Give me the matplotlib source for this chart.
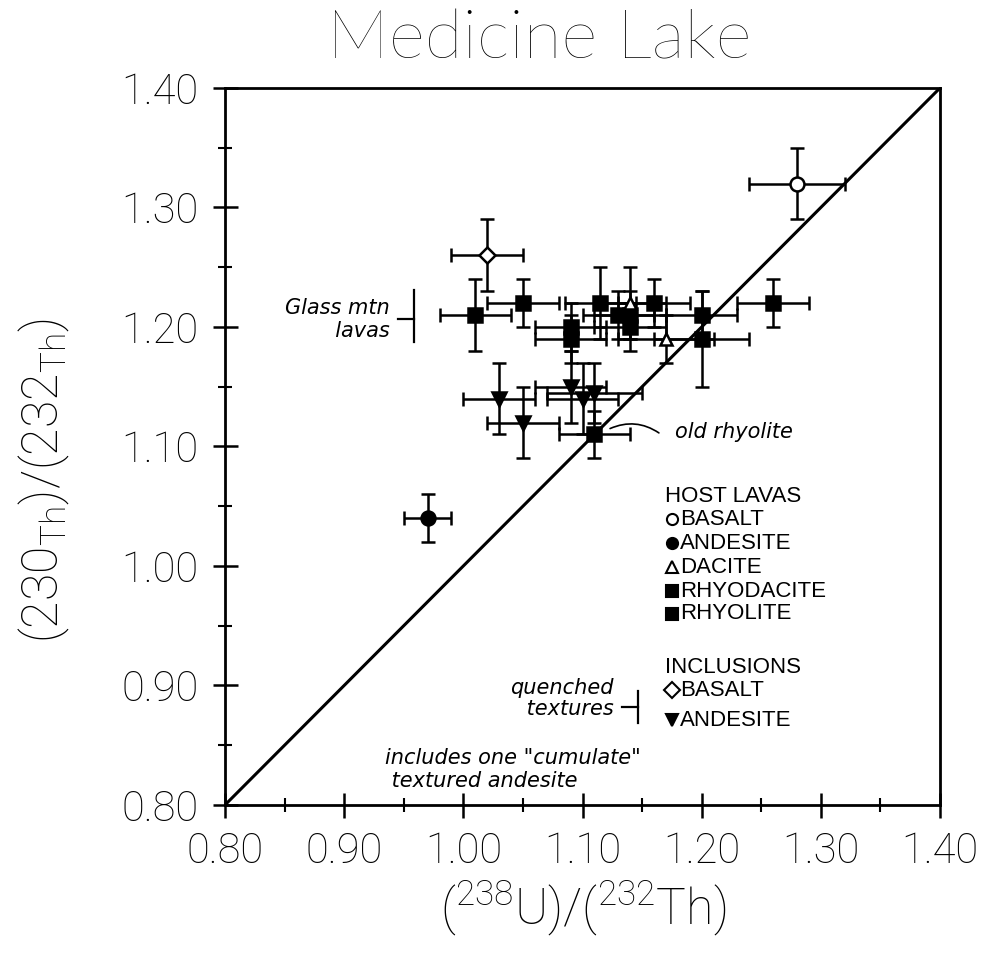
import matplotlib
matplotlib.use("Agg")
import matplotlib.pyplot as plt

plt.rcParams['font.family'] = ['Roboto', 'Lato', 'DejaVu Sans']
plt.rcParams['font.weight'] = 'light'
plt.rcParams['mathtext.fontset'] = 'custom'
plt.rcParams['mathtext.rm'] = 'Roboto:light'

# данные: x, y, ошибка x, ошибка y
host_basalt_x, host_basalt_y = [1.28], [1.32]
host_basalt_xe, host_basalt_ye = [0.04], [0.03]

host_andesite_x, host_andesite_y = [0.97], [1.04]
host_andesite_xe, host_andesite_ye = [0.02], [0.02]

dacite_x, dacite_y = [1.14, 1.17], [1.22, 1.19]
dacite_xe, dacite_ye = [0.03, 0.04], [0.03, 0.02]

rhyodacite_x = [1.09, 1.09, 1.115, 1.13, 1.14, 1.14, 1.16, 1.20, 1.20]
rhyodacite_y = [1.20, 1.19, 1.22, 1.21, 1.21, 1.20, 1.22, 1.21, 1.19]
rhyodacite_xe = [0.03, 0.03, 0.03, 0.03, 0.03, 0.03, 0.03, 0.03, 0.04]
rhyodacite_ye = [0.02, 0.02, 0.03, 0.02, 0.02, 0.02, 0.02, 0.02, 0.04]

rhyolite_x = [1.01, 1.05, 1.11, 1.26]
rhyolite_y = [1.21, 1.22, 1.11, 1.22]
rhyolite_xe = [0.03, 0.03, 0.03, 0.03]
rhyolite_ye = [0.03, 0.02, 0.02, 0.02]

incl_basalt_x, incl_basalt_y = [1.02], [1.26]
incl_basalt_xe, incl_basalt_ye = [0.03], [0.03]

incl_andesite_x = [1.03, 1.05, 1.09, 1.10, 1.11]
incl_andesite_y = [1.14, 1.12, 1.15, 1.14, 1.145]
incl_andesite_xe = [0.03, 0.03, 0.03, 0.03, 0.04]
incl_andesite_ye = [0.03, 0.03, 0.03, 0.03, 0.025]

ticks = [0.80, 0.90, 1.00, 1.10, 1.20, 1.30, 1.40]
tick_labels = ['0.80', '0.90', '1.00', '1.10', '1.20', '1.30', '1.40']

fig = plt.figure(figsize=(9.89, 9.6), dpi=100)
ax = fig.add_axes([0.2275, 0.1615, 0.723, 0.7469])

# линия 1:1
ax.plot([0.8, 1.4], [0.8, 1.4], color='black', lw=2.2, zorder=2)

groups = [
    (host_basalt_x, host_basalt_y, host_basalt_xe, host_basalt_ye, 'o', 'white', 10),
    (host_andesite_x, host_andesite_y, host_andesite_xe, host_andesite_ye, 'o', 'black', 10),
    (rhyodacite_x, rhyodacite_y, rhyodacite_xe, rhyodacite_ye, 's', 'black', 10),
    (rhyolite_x, rhyolite_y, rhyolite_xe, rhyolite_ye, 's', 'black', 10),
    (dacite_x, dacite_y, dacite_xe, dacite_ye, '^', 'white', 9),
    (incl_basalt_x, incl_basalt_y, incl_basalt_xe, incl_basalt_ye, 'D', 'white', 8),
    (incl_andesite_x, incl_andesite_y, incl_andesite_xe, incl_andesite_ye, 'v', 'black', 10),
]
for gx, gy, gxe, gye, m, fc, ms in groups:
    ax.errorbar(gx, gy, xerr=gxe, yerr=gye, fmt=m, mfc=fc, mec='black', mew=1.8,
                ms=ms, ecolor='black', elinewidth=1.8, capsize=5, capthick=1.8, zorder=3)

ax.set_xlim(0.8, 1.4)
ax.set_ylim(0.8, 1.4)
ax.set_xticks(ticks)
ax.set_xticklabels(tick_labels)
ax.set_yticks(ticks)
ax.set_yticklabels(tick_labels)
ax.set_xticks([0.85, 0.95, 1.05, 1.15, 1.25, 1.35], minor=True)
ax.set_yticks([0.85, 0.95, 1.05, 1.15, 1.25, 1.35], minor=True)
ax.tick_params(which='major', direction='inout', length=18, width=1.8, labelsize=30, pad=10)
ax.tick_params(which='minor', direction='inout', length=10, width=1.5)
for s in ax.spines.values():
    s.set_linewidth(2)

fig.text(0.545, 0.958, 'Medicine Lake', ha='center', va='center', fontsize=50,
         family=['Lato', 'DejaVu Sans'], fontweight='light')
fig.text(0.59, 0.054, r'$(^{238}\mathrm{U})/(^{232}\mathrm{Th})$', ha='center', va='center', fontsize=36)
fig.text(0.045, 0.5, r'$(230_{\mathrm{Th}})/(232_{\mathrm{Th}})$', ha='center', va='center',
         rotation=90, fontsize=36)

# легенда вручную
leg_font = ['Liberation Sans Narrow', 'Liberation Sans', 'DejaVu Sans']
leg_x_mark, leg_x_text = 1.175, 1.182
legend_rows = [
    (1.058, 'HOST LAVAS', None, None),
    (1.039, 'BASALT', 'o', 'white'),
    (1.019, 'ANDESITE', 'o', 'black'),
    (0.999, 'DACITE', '^', 'white'),
    (0.979, 'RHYODACITE', 's', 'black'),
    (0.960, 'RHYOLITE', 's', 'black'),
    (0.915, 'INCLUSIONS', None, None),
    (0.896, 'BASALT', 'D', 'white'),
    (0.871, 'ANDESITE', 'v', 'black'),
]
for ly, txt, m, fc in legend_rows:
    if m is None:
        ax.text(leg_x_mark - 0.006, ly, txt, fontsize=16, family=leg_font,
                fontweight='normal', va='center', ha='left')
    else:
        ax.plot([leg_x_mark], [ly], marker=m, mfc=fc, mec='black', mew=1.5, ms=8, ls='none')
        ax.text(leg_x_text, ly, txt, fontsize=16, family=leg_font,
                fontweight='normal', va='center', ha='left')

# рукописные подписи
hand = dict(fontsize=15, style='italic', family=['DejaVu Sans'], fontweight='normal')
ax.text(0.938, 1.206, 'Glass mtn\n  lavas', ha='right', va='center', linespacing=1.2, **hand)
ax.plot([0.9586, 0.9586], [1.187, 1.231], color='black', lw=1.6)
ax.plot([0.945, 0.9586], [1.207, 1.207], color='black', lw=1.6)

ax.text(1.178, 1.112, 'old rhyolite', ha='left', va='center', **hand)
ax.annotate('', xy=(1.121, 1.114), xytext=(1.166, 1.11),
            arrowprops=dict(arrowstyle='-', color='black', lw=1.2,
                            connectionstyle='arc3,rad=0.3'))

ax.text(1.126, 0.889, 'quenched\n textures', ha='right', va='center', linespacing=1.1, **hand)
ax.plot([1.1466, 1.1466], [0.869, 0.895], color='black', lw=1.6)
ax.plot([1.133, 1.1466], [0.882, 0.882], color='black', lw=1.6)
ax.text(0.934, 0.830, 'includes one "cumulate"\n textured andesite', ha='left', va='center',
        linespacing=1.2, **hand)

fig.savefig('out.png', dpi=100)
